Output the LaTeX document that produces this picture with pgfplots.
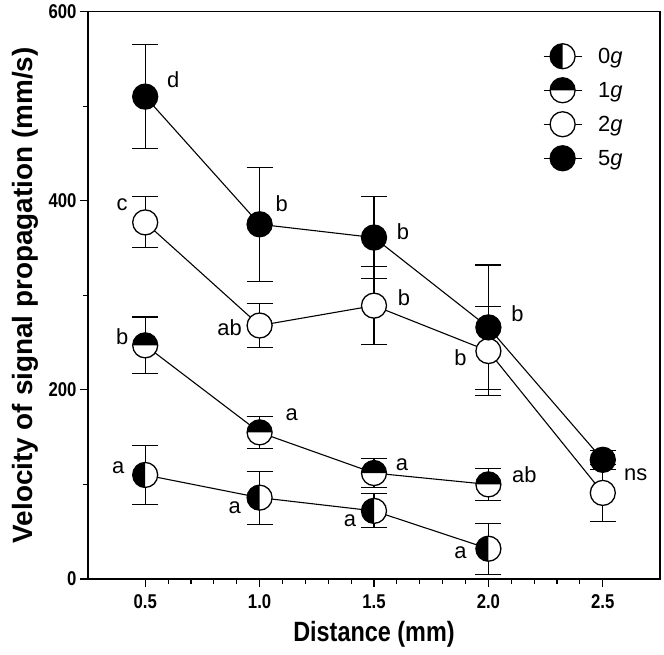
\documentclass[border=0pt]{standalone}
\usepackage{pgfplots}
\pgfplotsset{compat=1.18}
\usepackage{pgfplotstable}
\usepackage{fontspec}
\setmainfont{Liberation Sans}
\newfontfamily\condfont{Liberation Sans}[FakeStretch=0.84]
\usetikzlibrary{calc}

\pgfdeclareplotmark{halfL}{%
  \pgfpathcircle{\pgfpointorigin}{\pgfplotmarksize}%
  \pgfsetfillcolor{white}\pgfusepathqfill
  \pgfpathmoveto{\pgfqpoint{0pt}{\pgfplotmarksize}}%
  \pgfpatharc{90}{270}{\pgfplotmarksize}%
  \pgfpathclose
  \pgfsetfillcolor{black}\pgfusepathqfill
  \pgfpathcircle{\pgfpointorigin}{\pgfplotmarksize}%
  \pgfusepathqstroke
}
\pgfdeclareplotmark{halfT}{%
  \pgfpathcircle{\pgfpointorigin}{\pgfplotmarksize}%
  \pgfsetfillcolor{white}\pgfusepathqfill
  \pgfpathmoveto{\pgfqpoint{\pgfplotmarksize}{0pt}}%
  \pgfpatharc{0}{180}{\pgfplotmarksize}%
  \pgfpathclose
  \pgfsetfillcolor{black}\pgfusepathqfill
  \pgfpathcircle{\pgfpointorigin}{\pgfplotmarksize}%
  \pgfusepathqstroke
}

\pgfplotstableread{
x y e
0.5 110 31
1.0 86 28
1.5 72 18
2.0 32 27
}\gzero
\pgfplotstableread{
x y e
0.5 247 30
1.0 155 17
1.5 112 15
2.0 100 17
}\gone
\pgfplotstableread{
x y e
0.5 377 27
1.0 268 23
1.5 289 41
2.0 241 47
2.5 91 30
}\gtwo
\pgfplotstableread{
x y e
0.5 510 55
1.0 375 60
1.5 361 43
2.0 266 66
2.5 126 10
}\gfive

\newcommand\annfont{\fontsize{22}{26}\selectfont}

\begin{document}
\begin{tikzpicture}
\begin{axis}[
  scale only axis,
  width=572bp, height=567.5bp,
  xmin=0.25, xmax=2.75, ymin=0, ymax=600,
  xtick={0.5,1.0,1.5,2.0,2.5},
  minor x tick num=4,
  ytick={0,200,400,600},
  minor y tick num=1,
  xtick pos=bottom, ytick pos=left,
  tick align=outside,
  major tick length=8bp, minor tick length=5bp,
  every tick/.style={black, line width=1.1bp},
  axis line style={line width=1.1bp},
  /pgf/number format/assume math mode=true,
  tick label style={font=\condfont\bfseries\fontsize{20}{22}\selectfont},
  xticklabel style={yshift=-4bp, /pgf/number format/.cd, fixed, fixed zerofill, precision=1},
  xlabel={Distance (mm)},
  ylabel={Velocity of signal propagation (mm/s)},
  xlabel style={font=\condfont\bfseries\fontsize{28}{32}\selectfont, yshift=-6bp},
  ylabel style={font=\bfseries\fontsize{28}{33}\selectfont, yshift=3bp},
  clip=false,
  legend style={draw=none, fill=none, at={(0.79,0.947)}, anchor=north west,
    font=\fontsize{22}{26}\selectfont, row sep=9bp},
  legend cell align=left,
  legend image code/.code={%
    \draw[mark repeat=2,mark phase=2,#1] plot coordinates {(0bp,0bp) (19bp,0bp) (38bp,0bp)};},
]
\addplot[black, line width=1.1bp, mark=halfL, mark size=12.5bp,
  mark options={solid, line width=1.3bp},
  error bars/.cd, y dir=both, y explicit, error mark=|,
  error bar style={line width=1.1bp},
  error mark options={black, mark size=13bp, line width=1.1bp}]
  table[x=x, y=y, y error=e] {\gzero};
\addlegendentry{\hspace*{14bp}0\textit{g}}
\addplot[black, line width=1.1bp, mark=halfT, mark size=12.5bp,
  mark options={solid, line width=1.3bp},
  error bars/.cd, y dir=both, y explicit, error mark=|,
  error bar style={line width=1.1bp},
  error mark options={black, mark size=13bp, line width=1.1bp}]
  table[x=x, y=y, y error=e] {\gone};
\addlegendentry{\hspace*{14bp}1\textit{g}}
\addplot[black, line width=1.1bp, mark=*, mark size=12.5bp,
  mark options={solid, line width=1.3bp, fill=white},
  error bars/.cd, y dir=both, y explicit, error mark=|,
  error bar style={line width=1.1bp},
  error mark options={black, mark size=13bp, line width=1.1bp}]
  table[x=x, y=y, y error=e] {\gtwo};
\addlegendentry{\hspace*{14bp}2\textit{g}}
\addplot[black, line width=1.1bp, mark=*, mark size=12.5bp,
  mark options={solid, line width=1.3bp, fill=black},
  error bars/.cd, y dir=both, y explicit, error mark=|,
  error bar style={line width=1.1bp},
  error mark options={black, mark size=13bp, line width=1.1bp}]
  table[x=x, y=y, y error=e] {\gfive};
\addlegendentry{\hspace*{14bp}5\textit{g}}

\begin{scope}[every node/.style={font=\annfont, inner sep=0pt}]
\node[xshift=28bp, yshift=17bp] at (axis cs:0.5,510) {d};
\node[xshift=-23bp, yshift=18bp] at (axis cs:0.5,377) {c};
\node[xshift=-23bp, yshift=9bp] at (axis cs:0.5,247) {b};
\node[xshift=-27bp, yshift=7bp] at (axis cs:0.5,110) {a};
\node[xshift=22bp, yshift=21bp] at (axis cs:1.0,375) {b};
\node[xshift=-30bp, yshift=-2bp] at (axis cs:1.0,268) {ab};
\node[xshift=32bp, yshift=18bp] at (axis cs:1.0,155) {a};
\node[xshift=-25bp, yshift=-10bp] at (axis cs:1.0,86) {a};
\node[xshift=29bp, yshift=6bp] at (axis cs:1.5,361) {b};
\node[xshift=30bp, yshift=8bp] at (axis cs:1.5,289) {b};
\node[xshift=28bp, yshift=8bp] at (axis cs:1.5,112) {a};
\node[xshift=-24bp, yshift=-10bp] at (axis cs:1.5,72) {a};
\node[xshift=29bp, yshift=14bp] at (axis cs:2.0,266) {b};
\node[xshift=-28bp, yshift=-7bp] at (axis cs:2.0,241) {b};
\node[xshift=36bp, yshift=10bp] at (axis cs:2.0,100) {ab};
\node[xshift=-28bp, yshift=-4bp] at (axis cs:2.0,32) {a};
\node[xshift=33bp, yshift=-15bp] at (axis cs:2.5,126) {ns};
\end{scope}
\end{axis}
\path (current axis.south west) ++(-88bp,-76bp) coordinate (bbA);
\path (current axis.north east) ++(4bp,11.5bp) coordinate (bbB);
\path (bbA) rectangle (bbB);
\end{tikzpicture}
\end{document}
